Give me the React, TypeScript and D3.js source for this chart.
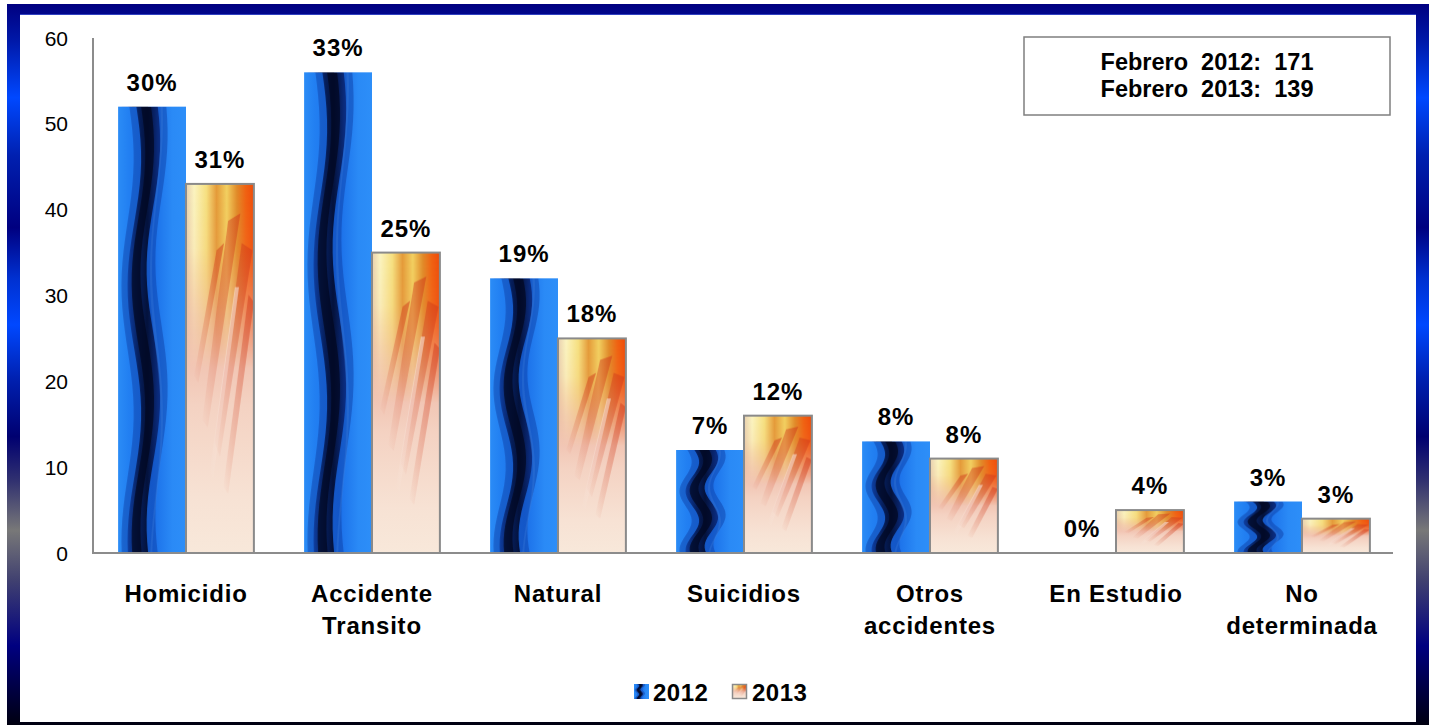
import React from "react";
import * as d3 from "d3";

const categories: string[][] = [
  ["Homicidio"],
  ["Accidente", "Transito"],
  ["Natural"],
  ["Suicidios"],
  ["Otros", "accidentes"],
  ["En Estudio"],
  ["No", "determinada"],
];
const values2012 = [52, 56, 32, 12, 13, 0, 6];
const values2013 = [43, 35, 25, 16, 11, 5, 4];
const pct2012 = ["30%", "33%", "19%", "7%", "8%", "0%", "3%"];
const pct2013 = ["31%", "25%", "18%", "12%", "8%", "4%", "3%"];
const yTicks = [0, 10, 20, 30, 40, 50, 60];
const seriesNames = ["2012", "2013"];
const infoLines = ["Febrero  2012:  171", "Febrero  2013:  139"];

const W = 1430;
const H = 725;
const FONT = "Arial, 'Liberation Sans', sans-serif";

function wave(base: number, amp: number, periods: number, phase: number, n = 40) {
  const pts: [number, number][] = [];
  for (let i = 0; i <= n; i++) {
    const t = i / n;
    pts.push([base + amp * Math.sin(2 * Math.PI * periods * t + phase), t]);
  }
  return pts;
}
function band(left: [number, number][], right: [number, number][]) {
  const all = [...left, ...right.slice().reverse()];
  return "M" + all.map((p) => `${p[0].toFixed(4)},${p[1].toFixed(4)}`).join("L") + "Z";
}

export default function App() {
  const x = d3
    .scaleBand<number>()
    .domain(d3.range(categories.length))
    .range([93, 1395])
    .paddingInner(0.27)
    .paddingOuter(0.135);
  const xs = d3.scaleBand<string>().domain(seriesNames).range([0, x.bandwidth()]);
  const y = d3.scaleLinear().domain([0, 60]).range([553, 38]);

  const outerL = wave(0.14, 0.09, 1.75, 0.3);
  const outerR = wave(0.64, 0.09, 1.75, 0.9);
  const innerL = wave(0.24, 0.1, 1.75, 0.3);
  const innerR = wave(0.52, 0.1, 1.75, 0.7);
  const coreL = wave(0.3, 0.1, 1.75, 0.4);
  const coreR = wave(0.43, 0.1, 1.75, 0.6);
  const hiL = wave(0.55, 0.08, 1.5, 1.2);
  const hiR = wave(0.58, 0.08, 1.5, 1.3);

  const yearPattern = ["url(#p2012)", "url(#p2013)"];

  return (
    <svg
      width={W}
      height={H}
      style={{ position: "absolute", left: 0, top: 0, fontFamily: FONT }}
    >
      <defs>
        <linearGradient id="frameGrad" x1="0" y1="0" x2="0" y2="1">
          <stop offset="0" stopColor="#000080" />
          <stop offset="0.05" stopColor="#0018a8" />
          <stop offset="0.13" stopColor="#0048ff" />
          <stop offset="0.21" stopColor="#0020b0" />
          <stop offset="0.31" stopColor="#000080" />
          <stop offset="0.38" stopColor="#0030d0" />
          <stop offset="0.445" stopColor="#0048ff" />
          <stop offset="0.52" stopColor="#0020b0" />
          <stop offset="0.6" stopColor="#000070" />
          <stop offset="0.66" stopColor="#303070" />
          <stop offset="0.73" stopColor="#787878" />
          <stop offset="0.8" stopColor="#404070" />
          <stop offset="0.89" stopColor="#000080" />
          <stop offset="1" stopColor="#000010" />
        </linearGradient>

        <linearGradient id="blueBase" x1="0" y1="0" x2="1" y2="0">
          <stop offset="0" stopColor="#2b8cf6" />
          <stop offset="0.15" stopColor="#2280f2" />
          <stop offset="0.5" stopColor="#1a6ee8" />
          <stop offset="0.8" stopColor="#2a8af6" />
          <stop offset="1" stopColor="#2d8ef8" />
        </linearGradient>
        <linearGradient id="darkBand" x1="0" y1="0" x2="1" y2="0">
          <stop offset="0" stopColor="#0d3a9a" />
          <stop offset="0.35" stopColor="#041850" />
          <stop offset="0.6" stopColor="#020a2c" />
          <stop offset="1" stopColor="#0a2a80" />
        </linearGradient>
        <pattern
          id="p2012"
          patternUnits="objectBoundingBox"
          patternContentUnits="objectBoundingBox"
          width="1"
          height="1"
        >
          <rect x="0" y="0" width="1" height="1" fill="url(#blueBase)" />
          <path d={band(outerL, outerR)} fill="#0c3aa0" opacity={0.45} />
          <path d={band(innerL, innerR)} fill="url(#darkBand)" opacity={0.9} />
          <path d={band(coreL, coreR)} fill="#010620" opacity={0.75} />
          <path d={band(hiL, hiR)} fill="#3a7ad8" opacity={0.35} />
        </pattern>

        <linearGradient id="peachBase" x1="0" y1="0" x2="0" y2="1">
          <stop offset="0" stopColor="#f0b060" />
          <stop offset="0.15" stopColor="#eea070" />
          <stop offset="0.35" stopColor="#eeb4a0" />
          <stop offset="0.6" stopColor="#f4d2c2" />
          <stop offset="0.85" stopColor="#f7e2d4" />
          <stop offset="1" stopColor="#f8e8da" />
        </linearGradient>
        <linearGradient id="topColors" x1="0" y1="0" x2="1" y2="0">
          <stop offset="0" stopColor="#e8d0b0" />
          <stop offset="0.12" stopColor="#fbf4c0" />
          <stop offset="0.3" stopColor="#f6e080" />
          <stop offset="0.45" stopColor="#e49a38" />
          <stop offset="0.6" stopColor="#f2d060" />
          <stop offset="0.75" stopColor="#e08a28" />
          <stop offset="0.88" stopColor="#f06010" />
          <stop offset="1" stopColor="#f04a08" />
        </linearGradient>
        <linearGradient id="fadeMaskGrad" x1="0" y1="0" x2="0" y2="1">
          <stop offset="0" stopColor="#fff" />
          <stop offset="0.35" stopColor="#fff" stopOpacity={0.9} />
          <stop offset="1" stopColor="#000" />
        </linearGradient>
        <mask id="topMask" maskContentUnits="objectBoundingBox">
          <rect x="0" y="0" width="1" height="1" fill="url(#fadeMaskGrad)" />
        </mask>
        <linearGradient id="streakGrad" x1="1" y1="0" x2="0" y2="1">
          <stop offset="0" stopColor="#d03a1a" stopOpacity={0.55} />
          <stop offset="1" stopColor="#d03a1a" stopOpacity={0} />
        </linearGradient>
        <linearGradient id="streakLight" x1="1" y1="0" x2="0" y2="1">
          <stop offset="0" stopColor="#ffffff" stopOpacity={0.5} />
          <stop offset="1" stopColor="#ffffff" stopOpacity={0} />
        </linearGradient>
        <pattern
          id="p2013"
          patternUnits="objectBoundingBox"
          patternContentUnits="objectBoundingBox"
          width="1"
          height="1"
        >
          <rect x="0" y="0" width="1" height="1" fill="url(#peachBase)" />
          <rect x="0" y="0" width="1" height="0.5" fill="url(#topColors)" mask="url(#topMask)" />
          <path d="M0.62,0.1 L0.8,0.08 L0.32,0.66 L0.24,0.64 Z" fill="url(#streakGrad)" />
          <path d="M0.82,0.16 L0.98,0.18 L0.5,0.74 L0.42,0.7 Z" fill="url(#streakGrad)" />
          <path d="M0.45,0.18 L0.56,0.16 L0.18,0.54 L0.12,0.52 Z" fill="url(#streakGrad)" />
          <path d="M0.72,0.28 L0.78,0.28 L0.4,0.8 L0.35,0.78 Z" fill="url(#streakLight)" />
          <path d="M0.92,0.3 L1,0.32 L0.62,0.84 L0.55,0.82 Z" fill="url(#streakGrad)" />
        </pattern>
      </defs>

      {/* Frame */}
      <rect x={7} y={4} width={1422} height={721} fill="url(#frameGrad)" />
      <rect x={20} y={14} width={1396} height={708} fill="#ffffff" />
      <line x1={20} x2={1416} y1={14.5} y2={14.5} stroke="#3040c0" strokeWidth={1} />

      {/* Y axis */}
      <line x1={93} x2={93} y1={y(60)} y2={y(0)} stroke="#8c8c8c" strokeWidth={2} />
      {yTicks.map((t) => (
        <text
          key={t}
          x={68}
          y={y(t)}
          dy="0.36em"
          textAnchor="end"
          fontSize={21}
          fill="#000"
        >
          {t}
        </text>
      ))}

      {/* Bars */}
      {categories.map((_, i) => {
        const vals = [values2012[i], values2013[i]];
        const pcts = [pct2012[i], pct2013[i]];
        return (
          <g key={i}>
            {seriesNames.map((s, k) => {
              const bx = (x(i) ?? 0) + (xs(s) ?? 0);
              const bw = xs.bandwidth();
              const top = y(vals[k]);
              const h = y(0) - top;
              return (
                <g key={s}>
                  {h > 0 && (
                    <rect
                      x={bx}
                      y={top}
                      width={bw}
                      height={h}
                      fill={yearPattern[k]}
                      stroke={k === 1 ? "#8a8a8a" : "none"}
                      strokeWidth={k === 1 ? 2 : 0}
                    />
                  )}
                  <text
                    x={bx + bw / 2}
                    y={top - 16}
                    textAnchor="middle"
                    fontSize={24}
                    fontWeight="bold"
                    letterSpacing={1}
                    fill="#000"
                  >
                    {pcts[k]}
                  </text>
                </g>
              );
            })}
          </g>
        );
      })}

      {/* X baseline */}
      <line x1={92} x2={1393} y1={y(0)} y2={y(0)} stroke="#8c8c8c" strokeWidth={2} />

      {/* Category labels */}
      {categories.map((lines, i) => (
        <text
          key={i}
          x={(x(i) ?? 0) + x.bandwidth() / 2}
          textAnchor="middle"
          fontSize={24}
          fontWeight="bold"
          letterSpacing={0.8}
          fill="#000"
        >
          {lines.map((ln, j) => (
            <tspan key={j} x={(x(i) ?? 0) + x.bandwidth() / 2} y={602 + j * 32}>
              {ln}
            </tspan>
          ))}
        </text>
      ))}

      {/* Legend */}
      <rect x={634} y={684} width={15} height={15} fill="url(#p2012)" />
      <text x={653} y={701} fontSize={24} fontWeight="bold" letterSpacing={0.5} fill="#000">
        {seriesNames[0]}
      </text>
      <rect
        x={732.5}
        y={684.5}
        width={14}
        height={14}
        fill="url(#p2013)"
        stroke="#8a8a8a"
        strokeWidth={1.5}
      />
      <text x={752} y={701} fontSize={24} fontWeight="bold" letterSpacing={0.5} fill="#000">
        {seriesNames[1]}
      </text>

      {/* Info box */}
      <rect
        x={1024}
        y={37}
        width={366}
        height={78}
        fill="#fff"
        stroke="#7f7f7f"
        strokeWidth={1.5}
      />
      {infoLines.map((ln, j) => (
        <text
          key={j}
          x={1207}
          y={70 + j * 27}
          textAnchor="middle"
          fontSize={23.5}
          fontWeight="bold"
          fill="#000"
          style={{ whiteSpace: "pre" }}
        >
          {ln}
        </text>
      ))}
    </svg>
  );
}
